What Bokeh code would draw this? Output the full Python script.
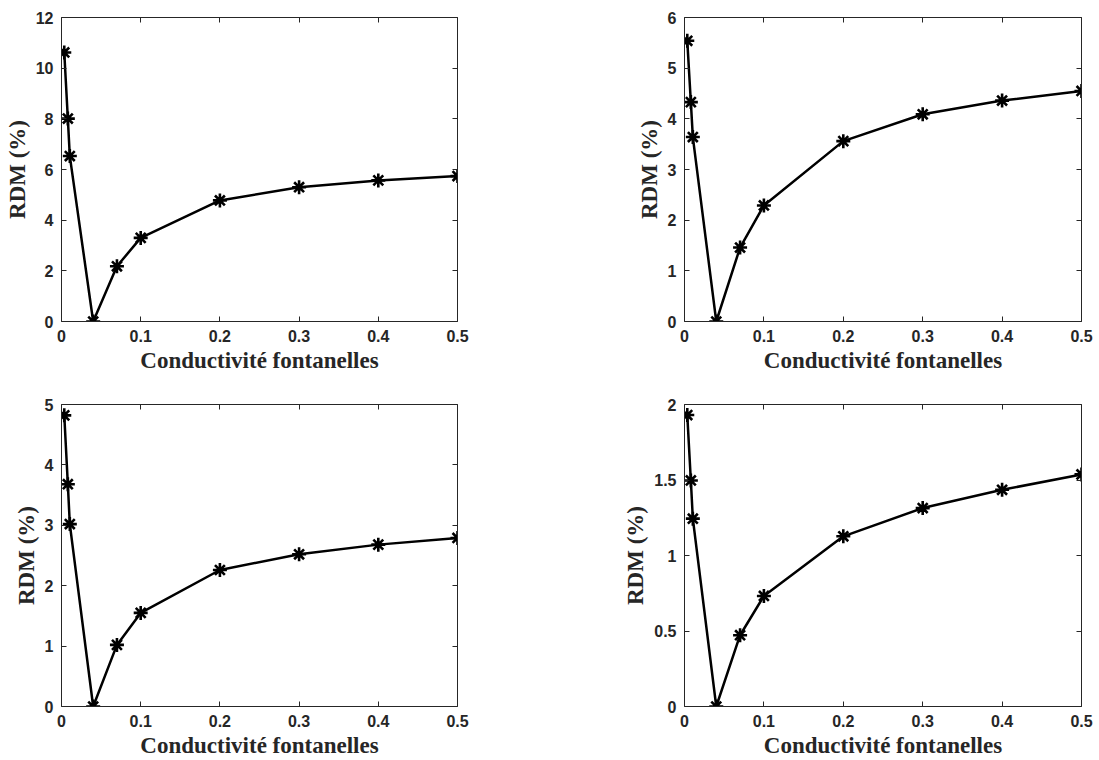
from bokeh.plotting import figure
from bokeh.layouts import column, row
from bokeh.models import Range1d, SingleIntervalTicker, LinearAxis, CustomJSTickFormatter
from bokeh.embed import file_html
from bokeh.resources import INLINE

# Data
conductivity = [0.0035, 0.008, 0.0105, 0.04, 0.07, 0.1, 0.2, 0.3, 0.4, 0.5]
rdm_a = [10.62, 8.01, 6.53, 0.0, 2.18, 3.30, 4.78, 5.30, 5.57, 5.74]
rdm_b = [5.54, 4.33, 3.64, 0.0, 1.46, 2.29, 3.56, 4.09, 4.36, 4.55]
rdm_c = [4.82, 3.68, 3.02, 0.0, 1.02, 1.55, 2.26, 2.52, 2.68, 2.79]
rdm_d = [1.93, 1.497, 1.244, 0.0, 0.472, 0.732, 1.127, 1.314, 1.435, 1.537]

xlabel = "Conductivité fontanelles"
ylabel = "RDM (%)"

AX = "#262626"


def style_axis(ax, show_labels=True):
    ax.axis_line_color = AX
    ax.axis_line_width = 1
    ax.major_tick_line_color = AX
    ax.major_tick_in = 5
    ax.major_tick_out = 0
    ax.minor_tick_line_color = None
    ax.major_label_text_font = "Liberation Sans"
    ax.major_label_text_font_style = "bold"
    ax.major_label_standoff = 4 if show_labels else 0
    if show_labels:
        ax.major_label_text_color = AX
        ax.major_label_text_font_size = "16px"
        ax.formatter = CustomJSTickFormatter(code="return String(Number(tick.toFixed(3)));")
    else:
        ax.major_label_text_color = None
        ax.major_label_text_font_size = "16px"
        ax.formatter = CustomJSTickFormatter(code="return '';")
    ax.axis_label_text_font = "Liberation Serif"
    ax.axis_label_text_font_style = "bold"
    ax.axis_label_text_font_size = "23px"
    ax.axis_label_text_color = AX
    ax.axis_label_standoff = 3


def make(ys, ymax, yint, W, H, bl, br, bt, bb):
    p = figure(width=W, height=H, x_range=Range1d(0, 0.5), y_range=Range1d(0, ymax),
               output_backend="svg", toolbar_location=None,
               min_border_left=bl, min_border_right=br, min_border_top=bt, min_border_bottom=bb)
    p.grid.visible = False
    p.outline_line_color = None
    p.xaxis.ticker = SingleIntervalTicker(interval=0.1)
    p.yaxis.ticker = SingleIntervalTicker(interval=yint)
    p.xaxis.axis_label = xlabel
    p.yaxis.axis_label = ylabel
    for ax in p.xaxis + p.yaxis:
        style_axis(ax)
    top = LinearAxis(ticker=SingleIntervalTicker(interval=0.1))
    right = LinearAxis(ticker=SingleIntervalTicker(interval=yint))
    style_axis(top, False)
    style_axis(right, False)
    p.add_layout(top, "above")
    p.add_layout(right, "right")
    p.line(conductivity, ys, line_color="black", line_width=2.5)
    p.scatter(conductivity, ys, marker="asterisk", size=14, line_color="black", line_width=2.6)
    return p


p1 = make(rdm_a, 12, 2, 548, 388, 61, 91, 17, 67)
p2 = make(rdm_b, 6, 1, 550, 388, 136, 17, 17, 67)
p3 = make(rdm_c, 5, 1, 548, 372, 61, 91, 16, 54)
p4 = make(rdm_d, 2, 0.5, 550, 372, 136, 17, 16, 54)

layout = column(row(p1, p2), row(p3, p4))
open("out.html", "w").write(file_html(layout, INLINE))
